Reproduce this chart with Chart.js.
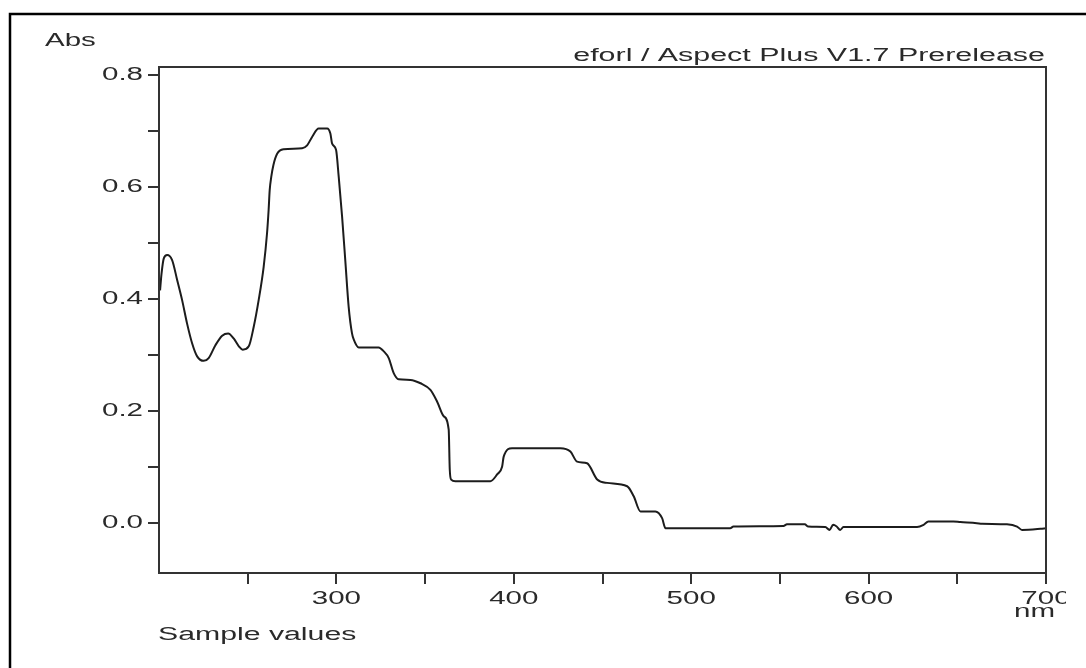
<!DOCTYPE html>
<html>
<head>
<meta charset="utf-8">
<script src="https://cdn.jsdelivr.net/npm/chart.js@4"></script>
<style>
  html, body { margin: 0; padding: 0; background: #fff; }
  #wrap { width: 1086px; height: 668px; }
</style>
</head>
<body>
<div id="wrap"><canvas id="spec" width="1086" height="668"></canvas></div>
<script>
// ---------- Data ----------
const wavelengthNm = [
  200.6, 201.4, 202.7, 204.6, 207.4, 210.2, 213.0, 215.8, 218.7, 221.5,
  225.2, 228.0, 231.8, 235.6, 239.0, 242.1, 245.0, 247.2, 250.6, 253.4,
  256.2, 259.0, 260.9, 261.8, 262.4, 263.3, 264.5, 266.6, 270.3, 280.7,
  283.5, 286.3, 290.0, 294.8, 296.6, 297.6, 299.8, 301.3, 303.2, 305.0,
  306.9, 308.8, 309.8, 312.6, 323.8, 326.7, 329.5, 332.3, 335.1, 341.7,
  347.4, 353.0, 356.8, 360.5, 363.3, 363.9, 364.7, 367.1, 386.8, 390.6,
  393.4, 394.3, 399.0, 426.3, 431.9, 435.7, 441.3, 447.0, 452.6, 463.9,
  467.6, 471.4, 479.8, 483.6, 485.5, 522.0, 523.8, 552.0, 554.0, 564.0,
  566.0, 575.6, 578.0, 580.0, 582.0, 584.0, 585.8, 627.3, 631.0, 633.7,
  647.8, 651.7, 661.0, 664.0, 678.0, 683.7, 686.5, 696.9, 700.0
];
const absorbance = [
  0.416, 0.445, 0.473, 0.479, 0.470, 0.435, 0.399, 0.357, 0.321, 0.298,
  0.290, 0.295, 0.318, 0.335, 0.339, 0.330, 0.316, 0.310, 0.316, 0.351,
  0.399, 0.458, 0.518, 0.560, 0.595, 0.619, 0.640, 0.660, 0.668, 0.670,
  0.675, 0.690, 0.705, 0.705, 0.696, 0.678, 0.667, 0.619, 0.548, 0.470,
  0.387, 0.339, 0.328, 0.314, 0.314, 0.307, 0.295, 0.268, 0.257, 0.256,
  0.250, 0.238, 0.217, 0.191, 0.167, 0.096, 0.078, 0.075, 0.075, 0.087,
  0.101, 0.119, 0.134, 0.134, 0.128, 0.110, 0.107, 0.078, 0.072, 0.066,
  0.048, 0.021, 0.021, 0.009, -0.009, -0.009, -0.006, -0.005, -0.002, -0.002,
  -0.006, -0.007, -0.012, -0.003, -0.006, -0.012, -0.007, -0.007, -0.003, 0.003,
  0.003, 0.002, 0.000, -0.001, -0.002, -0.006, -0.012, -0.010, -0.009
];
const xRange = [200, 700];
const yRange = [-0.089, 0.815];
const xLabelValues = [300, 400, 500, 600, 700];
const yLabelValues = [0.0, 0.2, 0.4, 0.6, 0.8];
const titleText = 'eforl / Aspect Plus V1.7 Prerelease';
const yAxisTitle = 'Abs';
const xAxisTitle = 'Sample values';
const xUnit = 'nm';

// ---------- Helpers ----------
const INK = '#2a2a2a';
const STRETCH = 1.64;   // the scan is wider than it is tall, text included
const FONT = '18px "Liberation Sans", Arial, sans-serif';

function wideText(ctx, text, x, y, align, sx){
  ctx.save();
  ctx.font = FONT;
  ctx.fillStyle = INK;
  ctx.textBaseline = 'middle';
  ctx.textAlign = align;
  ctx.translate(x, y);
  ctx.scale(sx || STRETCH, 1);
  ctx.fillText(text, 0, 0);
  ctx.restore();
}

const near = (a, b)=> Math.abs(a - b) < 1e-6;

// frame, box and all labels
const scanLook = {
  id: 'scanLook',
  beforeDraw(chart){
    const {ctx, width, height} = chart;
    ctx.save();
    ctx.fillStyle = '#fff';
    ctx.fillRect(0, 0, width, height);
    // outer window frame (runs off right and bottom)
    ctx.strokeStyle = '#000';
    ctx.lineWidth = 2.5;
    ctx.beginPath();
    ctx.moveTo(10, height + 2);
    ctx.lineTo(10, 14);
    ctx.lineTo(width + 2, 14);
    ctx.stroke();
    ctx.restore();
  },
  afterDraw(chart){
    const {ctx, chartArea: a} = chart;
    const xs = chart.scales.x, ys = chart.scales.y;
    ctx.save();
    ctx.strokeStyle = '#333';
    ctx.lineWidth = 2;
    ctx.strokeRect(a.left, a.top, a.right - a.left, a.bottom - a.top);
    ctx.restore();

    yLabelValues.forEach(v=>{
      wideText(ctx, v.toFixed(1), 143, ys.getPixelForValue(v), 'right');
    });

    ctx.save();
    ctx.beginPath();
    ctx.rect(0, 0, 1066, chart.height);
    ctx.clip();
    xLabelValues.forEach(v=>{
      wideText(ctx, String(v), xs.getPixelForValue(v), 599, 'center');
    });
    ctx.restore();

    wideText(ctx, xUnit, 1055, 612, 'right');
    wideText(ctx, yAxisTitle, 45, 41, 'left');
    wideText(ctx, titleText, 1045, 56, 'right', 1.69);
    wideText(ctx, xAxisTitle, 158, 635, 'left', 1.68);
  }
};

const points = wavelengthNm.map((x, i)=> ({x, y: absorbance[i]}));

new Chart(document.getElementById('spec').getContext('2d'), {
  type: 'line',
  data: {
    datasets: [{
      label: 'Abs',
      data: points,
      borderColor: '#1c1c1c',
      borderWidth: 2,
      pointRadius: 0,
      cubicInterpolationMode: 'monotone'
    }]
  },
  options: {
    responsive: false,
    animation: false,
    layout: {padding: {top: 67, right: 40, left: 0, bottom: 0}},
    plugins: {legend: {display: false}, tooltip: {enabled: false}},
    scales: {
      x: {
        type: 'linear',
        min: xRange[0], max: xRange[1],
        border: {display: false},
        grid: {
          drawOnChartArea: false, drawTicks: true, tickLength: 11, lineWidth: 2,
          color: (c)=> (c.tick && near(c.tick.value, xRange[0])) ? 'rgba(0,0,0,0)' : '#333'
        },
        ticks: {display: false, stepSize: 50, includeBounds: false},
        afterFit: (s)=>{ s.height = 95; }
      },
      y: {
        min: yRange[0], max: yRange[1],
        border: {display: false},
        grid: {
          drawOnChartArea: false, drawTicks: true, tickLength: 11, lineWidth: 2,
          color: '#333'
        },
        ticks: {display: false, stepSize: 0.1, includeBounds: false},
        afterFit: (s)=>{ s.width = 159; }
      }
    }
  },
  plugins: [scanLook]
});
</script>
</body>
</html>
